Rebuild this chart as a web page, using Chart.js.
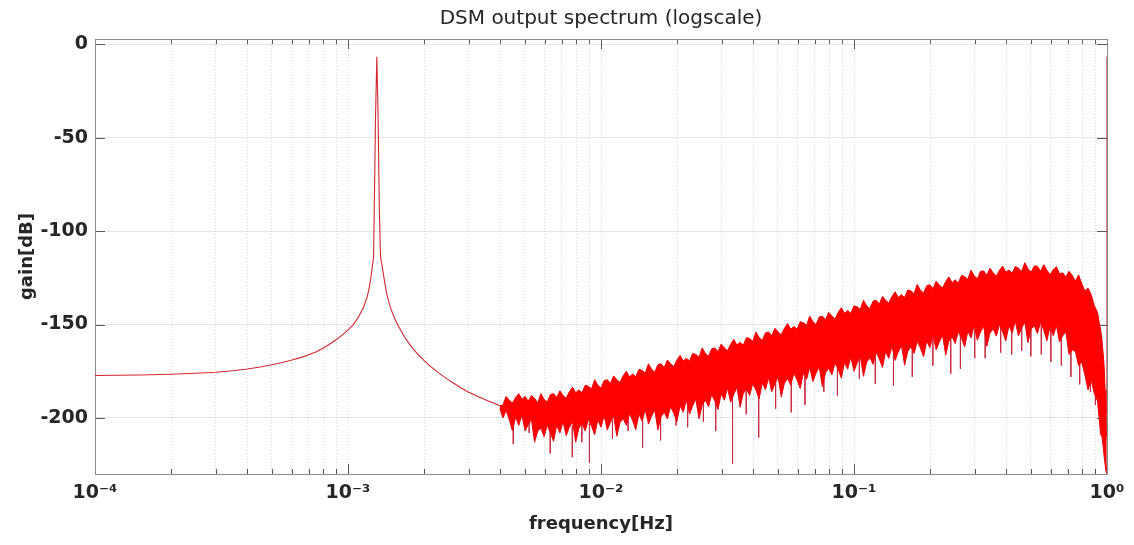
<!DOCTYPE html>
<html><head><meta charset="utf-8">
<script src="https://cdn.jsdelivr.net/npm/chart.js@4/dist/chart.umd.min.js"></script>
<style>html,body{margin:0;padding:0;background:#fff;overflow:hidden}canvas{display:block}</style>
</head><body>
<canvas id="c" width="1134" height="545"></canvas>
<script>
const chartTitle = 'DSM output spectrum (logscale)';
const xAxisTitle = 'frequency[Hz]';
const yAxisTitle = 'gain[dB]';
const xMajorTicks = [1e-4, 1e-3, 1e-2, 1e-1, 1];
const xMajorLabels = ['10⁻⁴', '10⁻³', '10⁻²', '10⁻¹', '10⁰'];
const yTicks = [-200, -150, -100, -50, 0];
const yTickLabels = ['-200', '-150', '-100', '-50', '0'];

// smooth low-frequency part with the signal peak
const lowFreq = [1e-4, 1.5e-4, 2e-4, 2.5e-4, 3e-4, 3.5e-4, 4e-4, 4.5e-4, 5e-4, 5.5e-4, 6e-4, 6.5e-4, 7e-4, 7.5e-4, 8e-4, 8.5e-4, 9e-4, 9.5e-4, 1.0e-3, 1.05e-3, 1.1e-3, 1.15e-3, 1.19e-3, 1.21e-3, 1.23e-3, 1.245e-3, 1.262e-3,
  1.27e-3, 1.285e-3, 1.300e-3, 1.315e-3, 1.33e-3, 1.345e-3,
  1.36e-3, 1.38e-3, 1.40e-3, 1.42e-3, 1.46e-3, 1.5e-3, 1.55e-3, 1.6e-3, 1.67e-3, 1.75e-3, 1.83e-3, 1.9e-3, 2.0e-3, 2.1e-3, 2.25e-3, 2.4e-3, 2.6e-3, 2.8e-3, 3.0e-3, 3.2e-3, 3.4e-3, 3.6e-3, 3.8e-3, 3.981e-3];
const lowGain = [-177.3, -177.0, -176.6, -176.1, -175.5, -174.7, -173.8, -172.7, -171.5, -170.3, -169, -167.7, -166.2, -164.5, -162.5, -160.3, -158, -155.5, -153, -150, -146, -141, -135.3, -131, -125.5, -120, -114,
  -88, -38, -6.6, -38, -88, -114,
  -117.5, -123, -128.5, -133, -139.5, -144, -148.5, -152, -156.5, -160.5, -163.8, -166.3, -169.3, -172, -175.2, -178, -181.2, -184, -186.2, -188, -189.6, -191, -192.3, -193.5];

// noise band (shaped quantisation noise): upper and lower edges
const bandFreq = [
  0.003981, 0.004097, 0.004217, 0.004340, 0.004467, 0.004597, 0.004732, 0.004870, 0.005012, 0.005158, 0.005309, 0.005464, 0.005623, 0.005788, 0.005957, 0.006131,
  0.006310, 0.006494, 0.006683, 0.006879, 0.007079, 0.007286, 0.007499, 0.007718, 0.007943, 0.008175, 0.008414, 0.008660, 0.008913, 0.009173, 0.009441, 0.009716,
  0.01000, 0.01029, 0.01059, 0.01090, 0.01122, 0.01155, 0.01189, 0.01223, 0.01259, 0.01296, 0.01334, 0.01372, 0.01413, 0.01454, 0.01496, 0.01540,
  0.01585, 0.01631, 0.01679, 0.01728, 0.01778, 0.01830, 0.01884, 0.01939, 0.01995, 0.02054, 0.02113, 0.02175, 0.02239, 0.02304, 0.02371, 0.02441,
  0.02512, 0.02585, 0.02661, 0.02738, 0.02818, 0.02901, 0.02985, 0.03073, 0.03162, 0.03255, 0.03350, 0.03447, 0.03548, 0.03652, 0.03758, 0.03868,
  0.03981, 0.04097, 0.04217, 0.04340, 0.04467, 0.04597, 0.04732, 0.04870, 0.05012, 0.05158, 0.05309, 0.05464, 0.05623, 0.05788, 0.05957, 0.06131,
  0.06310, 0.06494, 0.06683, 0.06879, 0.07079, 0.07286, 0.07499, 0.07718, 0.07943, 0.08175, 0.08414, 0.08660, 0.08913, 0.09173, 0.09441, 0.09716,
  0.1000, 0.1029, 0.1059, 0.1090, 0.1122, 0.1155, 0.1189, 0.1223, 0.1259, 0.1296, 0.1334, 0.1372, 0.1413, 0.1454, 0.1496, 0.1540,
  0.1585, 0.1631, 0.1679, 0.1728, 0.1778, 0.1830, 0.1884, 0.1939, 0.1995, 0.2054, 0.2113, 0.2175, 0.2239, 0.2304, 0.2371, 0.2441,
  0.2512, 0.2585, 0.2661, 0.2738, 0.2818, 0.2901, 0.2985, 0.3073, 0.3162, 0.3255, 0.3350, 0.3447, 0.3548, 0.3652, 0.3758, 0.3868,
  0.3981, 0.4097, 0.4217, 0.4340, 0.4467, 0.4597, 0.4732, 0.4870, 0.5012, 0.5158, 0.5309, 0.5464, 0.5623, 0.5788, 0.5957, 0.6131,
  0.6310, 0.6494, 0.6683, 0.6879, 0.7079, 0.7286, 0.7499, 0.7718, 0.7943, 0.8175, 0.8414, 0.8660, 0.8913, 0.9173, 0.9441,
  0.955, 0.965, 0.975, 0.983, 0.990, 0.995];
const bandHigh = [
  -193.5, -193, -188.5, -190.5, -192, -189, -187, -190, -188.5, -191, -188, -189.5, -192, -187, -190, -191.5,
  -187.5, -187, -189, -185.5, -188, -189.5, -186, -183.5, -186.5, -185, -186.5, -182.5, -183, -184.5, -179.5, -182.5,
  -184, -180, -179.5, -181.5, -177.5, -179.5, -181, -177.5, -175, -178, -176.5, -178, -174, -174.5, -176, -171,
  -174, -175.5, -171.5, -171, -173, -169, -171, -172.5, -169, -166.5, -169.5, -168, -169.5, -165.5, -166, -167.5,
  -162.5, -165.5, -167, -163, -162.5, -164.5, -160.5, -162.5, -164, -160.5, -158, -161, -159.5, -161, -157, -157.5,
  -159, -154, -157, -158.5, -154.5, -154, -156, -152, -154, -155.5, -152, -149.5, -152.5, -151, -152.5, -148.5,
  -149, -150.5, -145.5, -148.5, -150, -146, -145.5, -147.5, -143.5, -145.5, -147, -143.5, -141, -144, -142.5, -144,
  -140, -140.5, -142, -137, -140, -141.5, -137.5, -137, -139, -135, -137, -138.5, -135, -132.5, -135.5, -134,
  -135.5, -131.5, -132, -133.5, -128.5, -131.6, -133.1, -129.2, -128.7, -130.8, -126.8, -128.9, -130.4, -127, -124.5, -127.6,
  -126.1, -127.7, -123.7, -124.3, -125.8, -120.9, -123.9, -125.5, -121.5, -121.3, -123.6, -119.9, -122.3, -124.1, -120.9, -118.7,
  -122, -120.8, -122.6, -118.9, -119.8, -121.6, -116.9, -120.2, -122, -118.6, -118.8, -121.4, -118, -120.9, -123.3, -120.6,
  -119, -122.9, -122.3, -124.6, -121.5, -123.6, -126.8, -123.4, -128, -132, -130.5, -134, -140, -143.5, -153,
  -158, -165, -173, -185, -198, -210];
const bandLow = [
  -195, -200, -196, -201, -207, -199.5, -204, -198.5, -207, -203.5, -201, -213, -207, -205.5, -210, -204,
  -208, -212.5, -204, -208, -202, -209.5, -205, -202, -213, -205.5, -203, -207, -201, -204.5, -209, -201,
  -205, -198.8, -206.5, -202.3, -199, -209.8, -202.5, -200.3, -204, -197.8, -201.5, -206.3, -198, -201.8, -195.5, -203.3,
  -199, -195.8, -206.5, -199.3, -197, -200.5, -194, -197.5, -202, -193.5, -197, -190.5, -198, -193.5, -190, -200.5,
  -193, -190.5, -194, -187.5, -191, -195.5, -187, -190.5, -184, -191.6, -187.2, -183.7, -194.3, -186.9, -184.5, -188,
  -181.6, -185.2, -189.8, -181.3, -184.9, -178.5, -186, -181.6, -178.2, -188.8, -181.4, -178.9, -182.5, -176.1, -179.7, -184.2,
  -175.8, -179.4, -173, -180.5, -176.1, -172.7, -183.3, -175.8, -173.4, -177, -170.6, -174.1, -178.7, -170.3, -173.9, -167.4,
  -175, -170.6, -167.1, -177.7, -170.2, -167.8, -171.3, -164.9, -168.4, -173, -164.5, -168.1, -161.6, -169.2, -164.7, -161.3,
  -171.8, -164.4, -161.9, -165.5, -159, -162.6, -167.2, -158.8, -162.4, -156, -163.6, -159.2, -155.8, -166.4, -159, -156.6,
  -160.2, -153.8, -157.4, -162, -153.6, -157.2, -150.8, -158.4, -154, -150.9, -161.7, -154.5, -152.4, -156.2, -150.1, -153.9,
  -158.8, -150.6, -154.5, -148.3, -156.1, -152, -148.8, -159.7, -152.5, -150.6, -154.8, -148.9, -153, -158.7, -151.3, -156,
  -150.7, -159.3, -156, -154, -166, -163.5, -164.5, -172, -170, -177, -185, -180, -187, -191, -209,
  -210, -215, -221, -225, -228, -229.5];

// deep single-bin dips below the band
const dipFreq = [0.0045, 0.0052, 0.0063, 0.0077, 0.0084, 0.0090, 0.0111, 0.0128, 0.0146, 0.0172, 0.0198, 0.0220, 0.0254, 0.0284, 0.0331, 0.0375, 0.0420, 0.0490, 0.0565, 0.0640, 0.0760, 0.0860, 0.1050, 0.1214, 0.1432, 0.1700, 0.2050, 0.2412, 0.2634, 0.3000, 0.3300, 0.3800, 0.4200, 0.4600, 0.5000, 0.5500, 0.6000, 0.6600, 0.7200, 0.7800, 0.8600, 0.9000];
const dipTop = [-200, -202, -205, -204, -203, -203, -201, -199, -198, -196, -194, -192, -189, -188, -186, -184, -183, -180, -178, -176, -173, -171, -167, -165, -162, -160, -157, -155, -154, -153, -152, -151, -151, -150, -150, -150, -151, -153, -158, -165, -176, -183];
const dipBottom = [-214, -208, -219, -221, -213, -224, -211, -207, -216, -212, -204, -205, -202, -207, -224.6, -198, -210.4, -195, -197, -193, -186, -188, -179, -181.8, -182.7, -178, -172, -176.4, -173.7, -168, -168, -165, -166, -164, -167, -166, -170, -172, -178, -182, -186, -193];

// last bin at the right edge
const edgeFreq = [0.995, 1.0, 1.0];
const edgeGain = [-229.5, -229.8, -6.6];

const pts = (xs, ys) => xs.map((v, i) => ({x: v, y: ys[i]}));
const dipData = [];
dipFreq.forEach((f, i) => { dipData.push({x: f, y: dipTop[i]}, {x: f, y: dipBottom[i]}, {x: f, y: null}); });

const FONT = '"DejaVu Sans", "Noto Sans", sans-serif';

const framePlugin = {
  id: 'frame',
  beforeDatasetsDraw(chart) {
    const {ctx, chartArea: a, scales: {x, y}} = chart;
    ctx.save();
    ctx.lineWidth = 1;
    const seg = (x1, y1, x2, y2) => { ctx.beginPath(); ctx.moveTo(x1, y1); ctx.lineTo(x2, y2); ctx.stroke(); };
    ctx.strokeStyle = '#5a5a5a';
    x.ticks.forEach(t => {
      const px = Math.round(x.getPixelForValue(t.value)) + 0.5;
      const L = xMajorTicks.includes(t.value) ? 10 : 5;
      seg(px, a.bottom, px, a.bottom - L);
      seg(px, a.top, px, a.top + L);
    });
    y.ticks.forEach(t => {
      const py = Math.round(y.getPixelForValue(t.value)) + 0.5;
      seg(a.left, py, a.left + 10, py);
      seg(a.right, py, a.right - 10, py);
    });
    ctx.strokeStyle = '#8c8c8c';
    ctx.strokeRect(Math.round(a.left) + 0.5, Math.round(a.top) + 0.5, Math.round(a.right - a.left), Math.round(a.bottom - a.top));
    ctx.restore();
  }
};

new Chart(document.getElementById('c'), {
  type: 'line',
  data: {
    datasets: [
      {data: pts(bandFreq, bandHigh), borderColor: 'rgb(240,0,0)', backgroundColor: 'rgb(255,0,0)', borderWidth: 1, fill: '+1', pointRadius: 0},
      {data: pts(bandFreq, bandLow), borderColor: 'rgb(215,20,35)', borderWidth: 1, fill: false, pointRadius: 0},
      {data: dipData, borderColor: 'rgba(200,40,60,0.85)', borderWidth: 1, fill: false, pointRadius: 0, spanGaps: false},
      {data: pts(lowFreq, lowGain), borderColor: 'rgb(210,40,45)', borderWidth: 1.1, fill: false, pointRadius: 0},
      {data: pts(edgeFreq, edgeGain), borderColor: 'rgb(210,40,45)', borderWidth: 1.2, fill: false, pointRadius: 0}
    ]
  },
  options: {
    responsive: false,
    animation: false,
    events: [],
    layout: {padding: {left: 0, right: 27, top: 0, bottom: 0}},
    plugins: {
      legend: {display: false},
      tooltip: {enabled: false},
      title: {display: true, fullSize: false, text: chartTitle, color: '#262626', font: {family: FONT, size: 20, weight: 'normal', lineHeight: 1.2}, padding: {top: 7, bottom: 8}}
    },
    elements: {line: {tension: 0}},
    scales: {
      x: {
        type: 'logarithmic', min: 1e-4, max: 1,
        afterBuildTicks(scale) {
          const t = [];
          xMajorTicks.forEach((m, i) => {
            t.push({value: m, major: true});
            if (i < xMajorTicks.length - 1) for (let k = 2; k <= 9; k++) t.push({value: m * k, major: false});
          });
          scale.ticks = t;
        },
        afterFit(scale) { scale.height = 71; },
        ticks: {
          autoSkip: false, maxRotation: 0, minRotation: 0, padding: 8,
          color: '#262626', font: {family: FONT, size: 19, weight: 'bold'},
          callback(v) { const i = xMajorTicks.findIndex(m => Math.abs(m - v) / m < 1e-6); return i >= 0 ? xMajorLabels[i] : ''; }
        },
        grid: {color: 'rgba(0,0,0,0.16)', lineWidth: 1, drawTicks: false},
        border: {display: false, dash: [1, 2]},
        title: {display: true, text: xAxisTitle, color: '#262626', font: {family: FONT, size: 18, weight: 'bold', lineHeight: 1.2}, padding: {top: 0, bottom: 10}}
      },
      y: {
        min: -230, max: 2.85,
        afterBuildTicks(scale) { scale.ticks = yTicks.map(v => ({value: v})); },
        afterFit(scale) { scale.width = 95; },
        ticks: {
          padding: 7, color: '#262626', font: {family: FONT, size: 19, weight: 'bold'},
          callback(v) { const i = yTicks.indexOf(v); return i >= 0 ? yTickLabels[i] : ''; }
        },
        grid: {color: 'rgba(0,0,0,0.1)', lineWidth: 1, drawTicks: false},
        border: {display: false},
        title: {display: true, text: yAxisTitle, color: '#262626', font: {family: FONT, size: 18, weight: 'bold', lineHeight: 1.2}, padding: {top: 17, bottom: 0}}
      }
    }
  },
  plugins: [framePlugin]
});
</script>
</body></html>
